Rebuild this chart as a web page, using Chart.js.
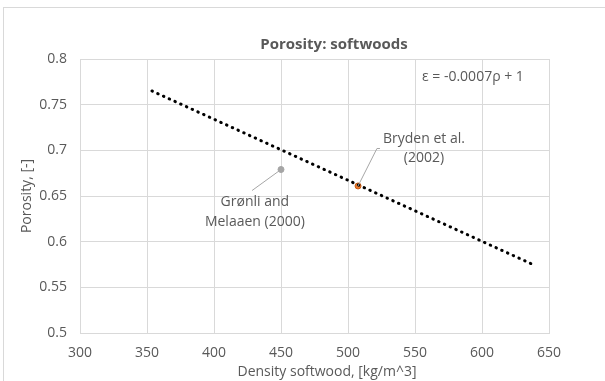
<!DOCTYPE html>
<html>
<head>
<meta charset="utf-8">
<script src="https://cdn.jsdelivr.net/npm/chart.js@4.4.0/dist/chart.umd.min.js"></script>
<style>
    html, body { margin: 0; padding: 0; background: #fff; overflow: hidden; }
    #wrap { position: relative; width: 605px; height: 381px; }
    #frame { position: absolute; left: 3px; top: 7px; width: 700px; height: 450px; border: 1px solid #d9d9d9; box-sizing: border-box; }
    canvas { position: absolute; left: 0; top: 0; }
</style>
</head>
<body>
<div id="wrap">
    <div id="frame"></div>
    <canvas id="chart" width="605" height="381"></canvas>
</div>
<script>
// axis ranges and ticks
const xTicks = [300, 350, 400, 450, 500, 550, 600, 650];
const yTicks = [0.5, 0.55, 0.6, 0.65, 0.7, 0.75, 0.8];

// trendline end points (eps = -0.0007 rho + 1, as drawn)
const trendX = [353.7, 638];
const trendY = [0.765, 0.575];

// literature points
const sourceNames = ['Grønli and Melaaen (2000)', 'Bryden et al. (2002)'];
const sourceX = [450, 507.5];
const sourceY = [0.679, 0.661];

const textColor = '#595959';
const gridColor = '#d9d9d9';
const fontFamily = '"Open Sans", "Noto Sans", sans-serif';

// labels for the points, anchored in data units
const labelLines = [['Grønli and', 'Melaaen (2000)'], ['Bryden et al.', '(2002)']];
const labelAnchor = [{ x: 430.5, y: 0.6325 }, { x: 556.7, y: 0.702 }];
const leaderEnd = [{ x: 428.4, y: 0.656 }, { x: 521.6, y: 0.702 }];

const annotations = {
    id: 'annotations',
    afterDatasetsDraw(chart) {
        const ctx = chart.ctx;
        const xs = chart.scales.x;
        const ys = chart.scales.y;
        const area = chart.chartArea;
        ctx.save();

        // leader lines
        ctx.strokeStyle = '#a6a6a6';
        ctx.lineWidth = 1;
        sourceX.forEach((v, i) => {
            ctx.beginPath();
            ctx.moveTo(xs.getPixelForValue(v), ys.getPixelForValue(sourceY[i]));
            ctx.lineTo(xs.getPixelForValue(leaderEnd[i].x), ys.getPixelForValue(leaderEnd[i].y));
            if (i === 1) ctx.lineTo(xs.getPixelForValue(leaderEnd[i].x) + 3, ys.getPixelForValue(leaderEnd[i].y));
            ctx.stroke();
        });

        // point labels
        ctx.fillStyle = textColor;
        ctx.font = '14px ' + fontFamily;
        ctx.textAlign = 'center';
        ctx.textBaseline = 'middle';
        labelLines.forEach((lines, i) => {
            const cx = xs.getPixelForValue(labelAnchor[i].x);
            const cy = ys.getPixelForValue(labelAnchor[i].y);
            lines.forEach((t, j) => {
                ctx.fillText(t, cx, cy + (j - (lines.length - 1) / 2) * 19.5);
            });
        });

        // trendline equation
        ctx.textAlign = 'left';
        ctx.fillText('ε = -0.0007ρ + 1', xs.getPixelForValue(555.2), ys.getPixelForValue(0.78));

        // chart title
        ctx.font = 'bold 15px ' + fontFamily;
        ctx.textAlign = 'center';
        ctx.fillText('Porosity: softwoods', 334, area.top - 14);

        // axis titles
        ctx.font = '14px ' + fontFamily;
        ctx.fillText('Density softwood, [kg/m^3]', 327, 372);
        ctx.translate(27, (area.top + area.bottom) / 2);
        ctx.rotate(-Math.PI / 2);
        ctx.fillText('Porosity, [-]', 0, 0);
        ctx.restore();
    }
};

new Chart(document.getElementById('chart'), {
    type: 'scatter',
    data: {
        datasets: [
            {
                type: 'line',
                label: 'Trend',
                data: trendX.map((x, i) => ({ x: x, y: trendY[i] })),
                borderColor: '#000',
                borderWidth: 3,
                borderDash: [0.5, 5.8],
                borderCapStyle: 'round',
                pointRadius: 0,
                fill: false
            },
            {
                label: sourceNames[0],
                data: [{ x: sourceX[0], y: sourceY[0] }],
                backgroundColor: '#a5a5a5',
                borderColor: '#a5a5a5',
                pointRadius: 3
            },
            {
                label: sourceNames[1],
                data: [{ x: sourceX[1], y: sourceY[1] }],
                backgroundColor: '#ed7d31',
                borderColor: '#c55a11',
                borderWidth: 1,
                pointRadius: 3
            }
        ]
    },
    options: {
        responsive: false,
        animation: false,
        layout: { padding: { top: 59, right: 56, left: 0, bottom: 0 } },
        plugins: {
            legend: { display: false },
            tooltip: { enabled: false },
            title: { display: false }
        },
        scales: {
            x: {
                type: 'linear',
                min: xTicks[0],
                max: xTicks[xTicks.length - 1],
                afterBuildTicks: axis => { axis.ticks = xTicks.map(v => ({ value: v })); },
                afterFit: axis => { axis.height = 48; },
                grid: { color: gridColor, drawTicks: false },
                border: { color: gridColor },
                ticks: { color: textColor, padding: 12, font: { family: fontFamily, size: 14 } }
            },
            y: {
                type: 'linear',
                min: yTicks[0],
                max: yTicks[yTicks.length - 1],
                afterBuildTicks: axis => { axis.ticks = yTicks.map(v => ({ value: v })); },
                afterFit: axis => { axis.width = 80; },
                grid: { color: gridColor, drawTicks: false },
                border: { color: gridColor },
                ticks: {
                    color: textColor,
                    padding: 13,
                    font: { family: fontFamily, size: 14 },
                    callback: v => String(Math.round(v * 100) / 100)
                }
            }
        }
    },
    plugins: [annotations]
});
</script>
</body>
</html>
